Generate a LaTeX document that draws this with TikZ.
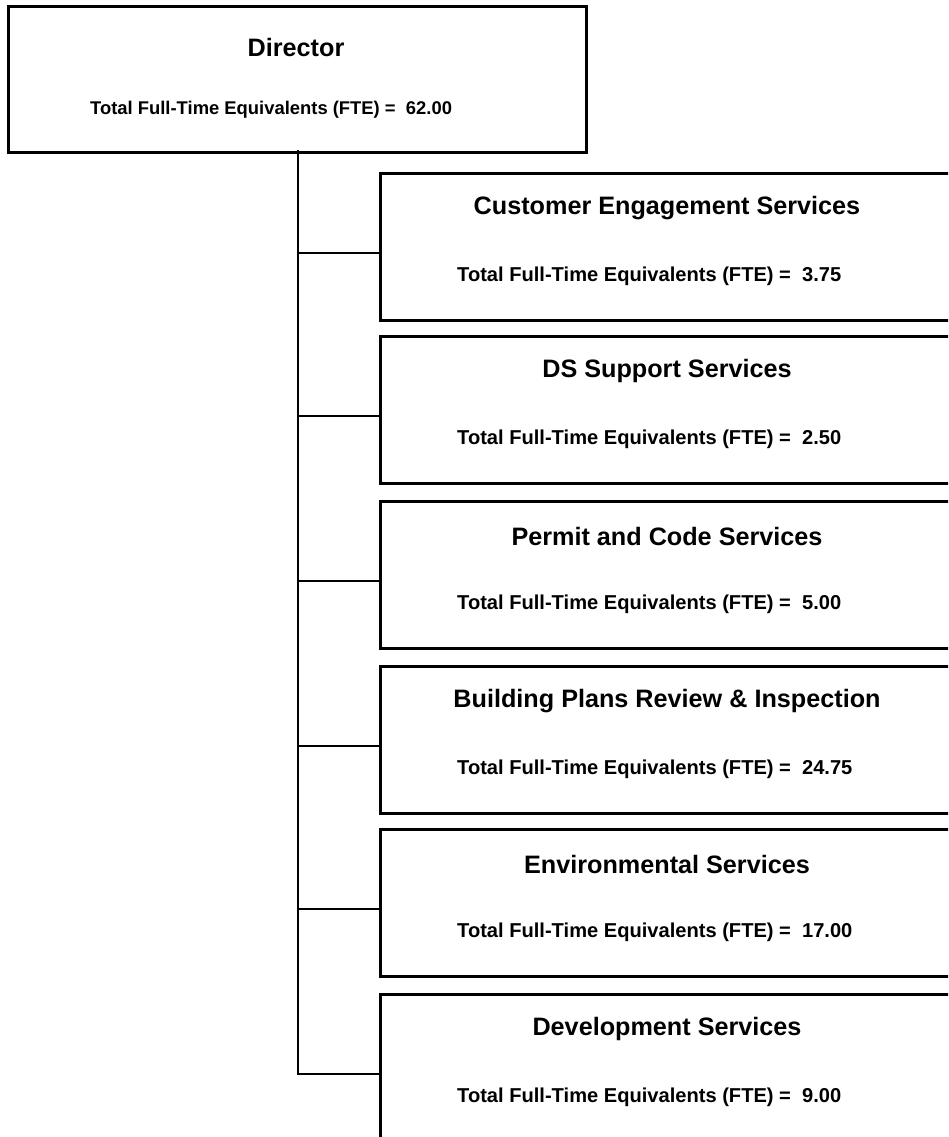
\documentclass[tikz,border=0pt]{standalone}
\usepackage{fontspec}
\setmainfont{Liberation Sans}
\begin{document}
\begin{tikzpicture}[x=1pt,y=-1pt,
  box/.style={draw=black,line width=2.6pt,fill=white,anchor=north west,inner sep=0pt},
  ttl/.style={font=\bfseries\fontsize{25.2}{28}\selectfont,anchor=center,inner sep=0pt},
  fte/.style={font=\bfseries\fontsize{20.1}{22}\selectfont,anchor=west,inner sep=0pt},
  dfte/.style={font=\bfseries\fontsize{18.4}{22}\selectfont,anchor=west,inner sep=0pt},
  conn/.style={line width=2.2pt,line cap=rect}]
\useasboundingbox (0,0) rectangle (948,1137);
\begin{scope}
\clip (0,0) rectangle (948,1137);
% director
\node[box,minimum width=578pt,minimum height=146pt] (dir) at (7,5) {};
\node[ttl] (dirt) at (296,47) {Director};
\node[dfte] (dirf) at (90,110) {Total Full-Time Equivalents (FTE) =\ \ 62.00};
\coordinate (t) at (298,151);
% children
\foreach \i/\top/\name/\val in {1/172/Customer Engagement Services/3.75,
  2/335/DS Support Services/2.50,
  3/500/Permit and Code Services/5.00,
  4/665/Building Plans Review \& Inspection/24.75,
  5/828/Environmental Services/17.00,
  6/993/Development Services/9.00}{
  \node[box,minimum width=580pt,minimum height=147pt] (b\i) at (379,\top) {};
  \node[ttl] (b\i t) at (667,\top+36) {\name};
  \node[fte] (b\i f) at (457,\top+104) {Total Full-Time Equivalents (FTE) =\ \ \val};
  \coordinate (j\i) at (379,\top+81);
}
\draw[conn] (t) -- (t |- j6);
\foreach \i in {1,...,6}{\draw[conn] (t |- j\i) -- (j\i);}
\end{scope}
\end{tikzpicture}
\end{document}
